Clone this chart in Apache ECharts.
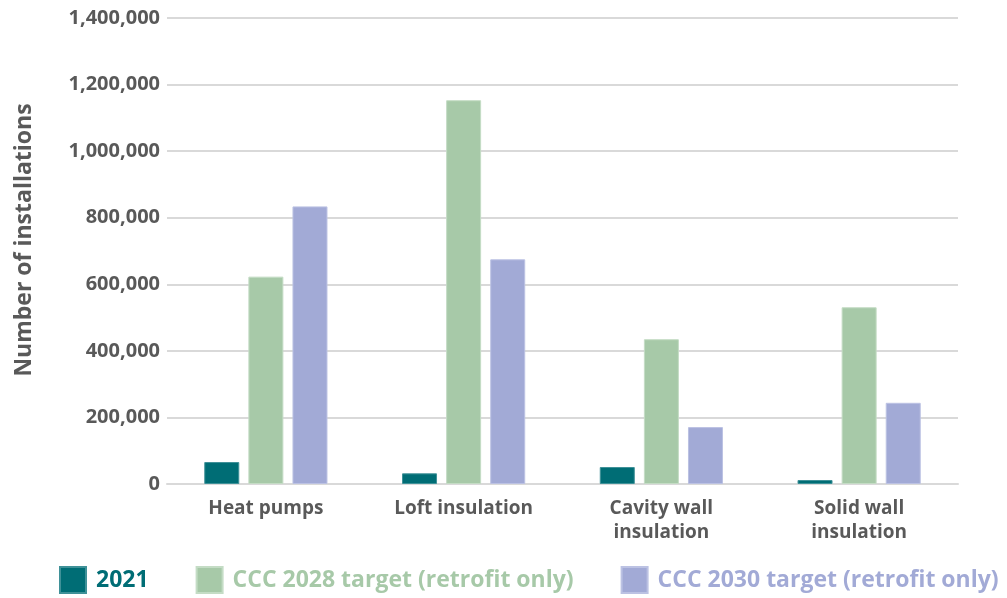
<!DOCTYPE html>
<html>
<head>
<meta charset="utf-8">
<script src="https://cdn.jsdelivr.net/npm/echarts@6/dist/echarts.min.js"></script>
<style>
  html, body { margin: 0; padding: 0; background: #fff; }
  #chart { width: 1007px; height: 598px; }
</style>
</head>
<body>
<div id="chart"></div>
<script>
// measures, in display order
const categories = ['Heat pumps', 'Loft insulation', 'Cavity wall\ninsulation', 'Solid wall\ninsulation']

// installations per measure
const actual2021 = [66000, 32000, 51000, 12000]
const target2028 = [623000, 1153000, 435000, 531000]
const target2030 = [834000, 675000, 171000, 244000]

const seriesNames = ['2021', 'CCC 2028 target (retrofit only)', 'CCC 2030 target (retrofit only)']
const seriesColors = ['#006d75', '#a7c9a8', '#a2aad6']
const seriesBorders = ['#3f9198', '#c4dcc5', '#bcc2e3']

const FONT = '"Open Sans", "Noto Sans", sans-serif'
const GREY = '#595959'

const chart = echarts.init(document.getElementById('chart'), null, { renderer: 'canvas' })

const allData = [actual2021, target2028, target2030]

chart.setOption({
  animation: false,
  textStyle: { fontFamily: FONT },
  grid: { left: 167, right: 49, top: 18, bottom: 114, containLabel: false },
  legend: {
    left: 59,
    top: 566,
    width: 948,
    padding: 0,
    itemWidth: 26,
    itemHeight: 26,
    itemGap: 47,
    icon: 'rect',
    data: seriesNames.map((name, i) => ({
      name,
      textStyle: {
        color: seriesColors[i],
        fontSize: 23,
        fontWeight: 'bold',
        fontFamily: FONT,
        padding: [0, 0, 0, 5],
      },
    })),
  },
  xAxis: {
    type: 'category',
    data: categories,
    axisTick: { show: false },
    axisLine: { lineStyle: { color: '#d9d9d9', width: 2 } },
    axisLabel: {
      color: GREY,
      fontSize: 19,
      fontWeight: 'bold',
      lineHeight: 24,
      margin: 13,
      interval: 0,
    },
  },
  yAxis: {
    type: 'value',
    min: 0,
    max: 1400000,
    interval: 200000,
    name: 'Number of installations',
    nameLocation: 'middle',
    nameGap: 131,
    nameTextStyle: { color: GREY, fontSize: 23, fontWeight: 'bold', padding: [0, 0, 0, 22] },
    axisLine: { show: false },
    axisTick: { show: false },
    splitLine: { lineStyle: { color: '#d9d9d9', width: 2 } },
    axisLabel: {
      color: GREY,
      fontSize: 20,
      fontWeight: 'bold',
      margin: 7,
      formatter: (v) => v.toLocaleString('en-GB'),
    },
  },
  series: seriesNames.map((name, i) => ({
    name,
    type: 'bar',
    data: allData[i],
    barWidth: 35,
    barGap: '26%',
    itemStyle: { color: seriesColors[i], borderColor: seriesBorders[i], borderWidth: 1 },
  })),
})
</script>
</body>
</html>
